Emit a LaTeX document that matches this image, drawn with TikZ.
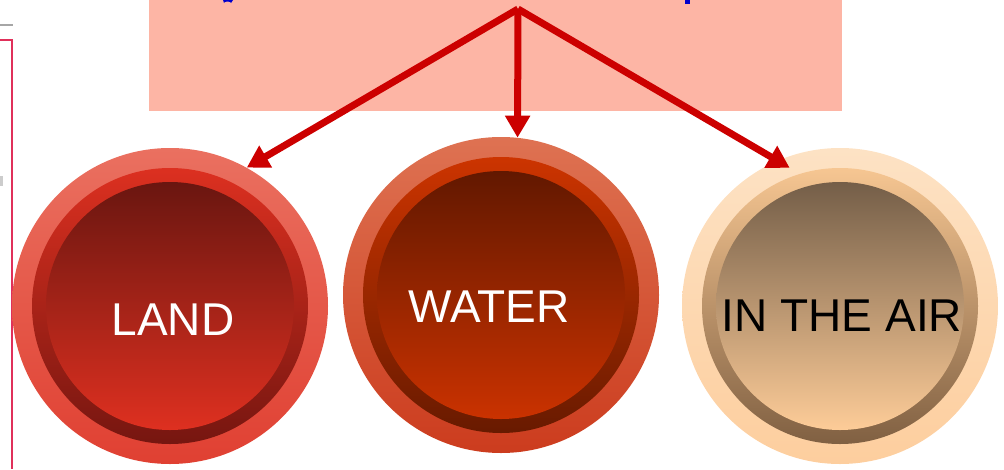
\documentclass[tikz,border=0pt]{standalone}
\usepackage{fontspec}
\setmainfont{Liberation Sans}
\usetikzlibrary{arrows.meta,calc}
\definecolor{pinkbox}{HTML}{FDB5A5}
\definecolor{arrowred}{HTML}{CC0000}
\definecolor{titleblue}{HTML}{0000CC}
\definecolor{frameline}{HTML}{E0305A}
\tikzset{
  outerdisk/.style={circle, draw=none, minimum size=316pt, inner sep=0pt, shading angle=45},
  ringdisk/.style={circle, draw=none, minimum size=276pt, inner sep=0pt, shading angle=45},
  innerdisk/.style={circle, draw=none, minimum size=248pt, inner sep=0pt},
  label/.style={font=\fontsize{46}{50}\selectfont},
  conn/.style={draw=arrowred, line width=7pt, -{Triangle[width=24pt,length=22pt]}},
}
\begin{document}
\begin{tikzpicture}[x=1pt,y=-1pt]
\useasboundingbox (0,0) rectangle (1004,469);
% left frame fragment
\draw[gray!70, line width=1.5pt] (0,25) -- (13,25);
\draw[frameline, line width=2pt] (0,40) -- (11.5,40) -- (11.5,469);
\fill[gray!40] (0,176) rectangle (2.5,186);
% title box
\node[fill=pinkbox, draw=none, minimum width=693pt, minimum height=111pt, inner sep=0pt, anchor=north west] (box) at (149,0) {};
\fill[titleblue] (223,0) -- (233,0) -- (231,3) arc (0:-180:3.5 and 1.5) -- cycle;
\fill[titleblue] (685,0) rectangle (690,4);
\coordinate (top) at (518,9);
% LAND
\node[outerdisk, top color={rgb,255:red,234;green,112;blue,96}, bottom color={rgb,255:red,224;green,64;blue,50}] (land) at (170,306) {};
\node[ringdisk, top color={rgb,255:red,220;green,48;blue,32}, bottom color={rgb,255:red,118;green,22;blue,16}] (landring) at (170,306) {};
\node[innerdisk, top color={rgb,255:red,106;green,22;blue,16}, bottom color={rgb,255:red,222;green,48;blue,32}] (landin) at (170,306) {};
\node[label, text=white] (landtxt) at (173,320) {LAND};
% WATER
\node[outerdisk, top color={rgb,255:red,222;green,114;blue,82}, bottom color={rgb,255:red,204;green,60;blue,30}] (water) at (501,295) {};
\node[ringdisk, top color={rgb,255:red,204;green,52;blue,0}, bottom color={rgb,255:red,104;green,26;blue,0}] (waterring) at (501,295) {};
\node[innerdisk, top color={rgb,255:red,98;green,24;blue,0}, bottom color={rgb,255:red,202;green,50;blue,0}] (waterin) at (501,295) {};
\node[label, text=white] (watertxt) at (489,307) {WATER};
% IN THE AIR
\node[outerdisk, top color={rgb,255:red,253;green,226;blue,196}, bottom color={rgb,255:red,253;green,206;blue,158}] (air) at (840,306) {};
\node[ringdisk, top color={rgb,255:red,246;green,198;blue,146}, bottom color={rgb,255:red,128;green,96;blue,66}] (airring) at (840,306) {};
\node[innerdisk, top color={rgb,255:red,116;green,94;blue,72}, bottom color={rgb,255:red,253;green,204;blue,152}] (airin) at (840,306) {};
\node[label, text=black] (airtxt) at (842,316) {IN THE AIR};
% connectors
\draw[conn] (top) -- (land.61);
\draw[conn] (top) -- (water.84);
\draw[conn] (top) -- ($(air.center)+(110:147pt)$);
\end{tikzpicture}
\end{document}
